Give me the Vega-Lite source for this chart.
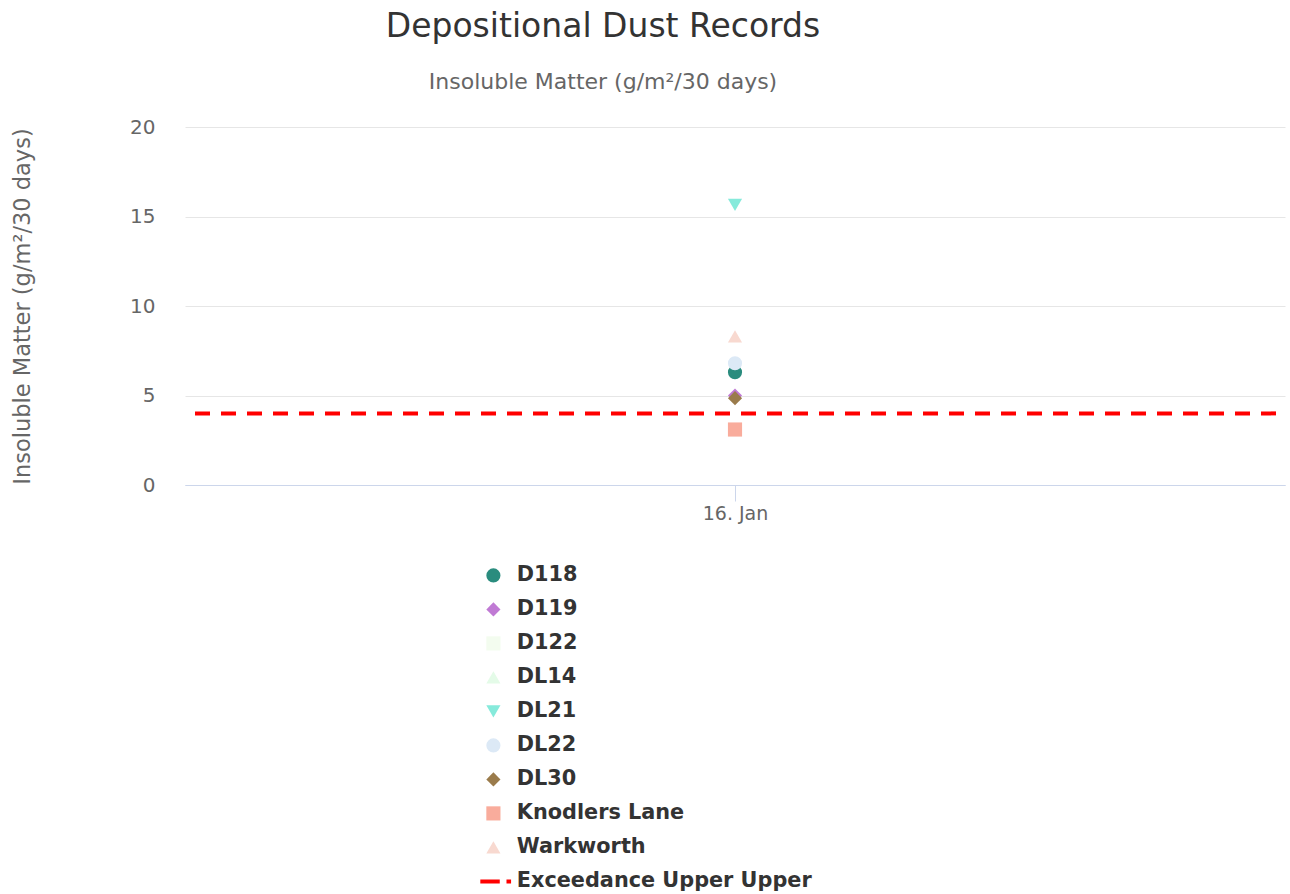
{
  "$schema": "https://vega.github.io/schema/vega-lite/v6.json",
  "autosize": {"type": "none"},
  "width": 1100,
  "height": 358,
  "padding": {"left": 185, "top": 127, "right": 5, "bottom": 409},
  "background": "#ffffff",
  "title": {
    "text": "Depositional Dust Records",
    "subtitle": "Insoluble Matter (g/m²/30 days)",
    "anchor": "middle",
    "frame": "group",
    "dx": -132,
    "offset": 24,
    "font": "DejaVu Sans",
    "fontSize": 33,
    "fontWeight": "normal",
    "color": "#333333",
    "subtitleFont": "DejaVu Sans",
    "subtitleFontSize": 22,
    "subtitleColor": "#666666",
    "subtitlePadding": 28
  },
  "config": {
    "view": {"stroke": null},
    "font": "DejaVu Sans"
  },
  "datasets": {
    "points": [
      {"date": "16. Jan", "site": "D118", "value": 6.3},
      {"date": "16. Jan", "site": "D119", "value": 5.0},
      {"date": "16. Jan", "site": "DL21", "value": 15.65},
      {"date": "16. Jan", "site": "DL22", "value": 6.8},
      {"date": "16. Jan", "site": "DL30", "value": 4.85},
      {"date": "16. Jan", "site": "Knodlers Lane", "value": 3.1},
      {"date": "16. Jan", "site": "Warkworth", "value": 8.3}
    ],
    "limit": [
      {"label": "Exceedance Upper Upper", "value": 4}
    ]
  },
  "layer": [
    {
      "data": {"name": "limit"},
      "mark": {"type": "rule", "color": "#ff0000", "strokeWidth": 4, "strokeDash": [15, 11], "strokeDashOffset": -9},
      "encoding": {
        "y": {"field": "value", "type": "quantitative"}
      }
    },
    {
      "data": {"name": "points"},
      "mark": {"type": "point", "filled": true, "opacity": 1, "size": 200},
      "encoding": {
        "x": {
          "field": "date",
          "type": "ordinal",
          "scale": {"type": "point"},
          "axis": {
            "title": null,
            "labelAngle": 0,
            "labelFontSize": 19,
            "labelColor": "#666666",
            "labelPadding": 3,
            "domainColor": "#ccd6eb",
            "tickColor": "#ccd6eb",
            "tickSize": 16,
            "grid": false,
            "zindex": 1
          }
        },
        "y": {
          "field": "value",
          "type": "quantitative",
          "scale": {"domain": [0, 20]},
          "axis": {
            "title": "Insoluble Matter (g/m²/30 days)",
            "titleFontSize": 22.5,
            "titleFontWeight": "normal",
            "titleColor": "#666666",
            "titleX": -163,
            "titleY": 179,
            "titleAngle": -90,
            "titleAlign": "center",
            "titleBaseline": "middle",
            "values": [0, 5, 10, 15, 20],
            "labelFontSize": 20,
            "labelColor": "#666666",
            "labelPadding": 30,
            "domain": false,
            "ticks": false,
            "gridColor": {"condition": {"test": "datum.value === 0", "value": "#ccd6eb"}, "value": "#e6e6e6"},
            "gridWidth": 1
          }
        },
        "color": {
          "field": "site",
          "type": "nominal",
          "scale": {
            "domain": ["D118", "D119", "D122", "DL14", "DL21", "DL22", "DL30", "Knodlers Lane", "Warkworth", "Exceedance Upper Upper"],
            "range": ["#2a8c7e", "#c07ad4", "#f3fcef", "#e4fbe8", "#86eadb", "#dce9f6", "#9a7b4b", "#f9ac9c", "#f8d9d0", "#ff0000"]
          },
          "legend": {
            "title": null,
            "orient": "none",
            "legendX": 298,
            "legendY": 438,
            "direction": "vertical",
            "labelFontSize": 20.8,
            "labelFontWeight": "bold",
            "labelColor": "#333333",
            "labelLimit": 500,
            "labelOffset": 13,
            "symbolSize": 200,
            "rowPadding": 12,
            "symbolStrokeWidth": 0,
            "symbolOpacity": 1
          }
        },
        "shape": {
          "field": "site",
          "type": "nominal",
          "scale": {
            "domain": ["D118", "D119", "D122", "DL14", "DL21", "DL22", "DL30", "Knodlers Lane", "Warkworth", "Exceedance Upper Upper"],
            "range": ["circle", "diamond", "square", "triangle-up", "triangle-down", "circle", "diamond", "square", "triangle-up", "M-1.85,-0.28H0.9V0.28H-1.85Z M1.85,-0.28H2.5V0.28H1.85Z"]
          },
          "legend": null
        }
      }
    }
  ]
}
